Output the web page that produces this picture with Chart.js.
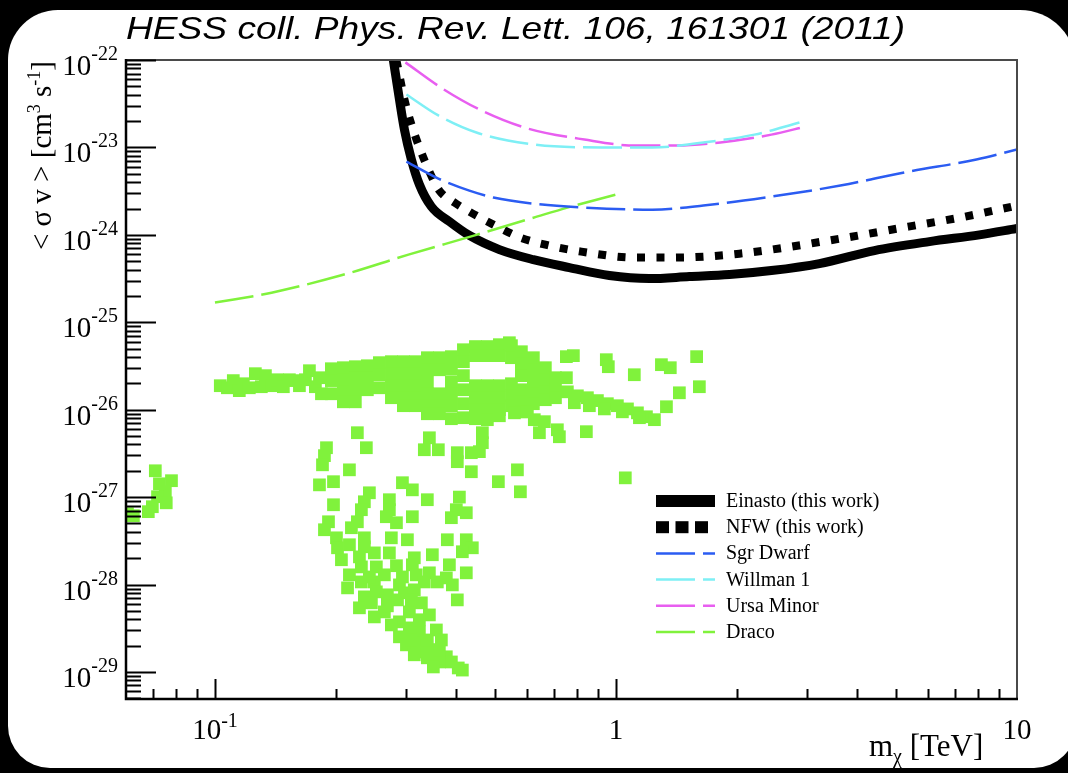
<!DOCTYPE html>
<html>
<head>
<meta charset="utf-8">
<script src="https://cdn.jsdelivr.net/npm/chart.js@4.4.1/dist/chart.umd.min.js"></script>
<style>
  html, body { margin: 0; padding: 0; background: #000; }
  #wrap { width: 1068px; height: 773px; }
</style>
</head>
<body>
<div id="wrap"><canvas id="limits" width="1068" height="773"></canvas></div>
<script>
// upper limits on <sigma v> vs WIMP mass (TeV), cm^3 s^-1
const einastoMass = [0.2785, 0.2884, 0.2968, 0.3089, 0.3234, 0.3465, 0.3842, 0.4309, 0.5119, 0.6223, 0.7652, 0.9627, 1.211, 1.524, 1.918, 2.441, 3.216, 4.410, 6.047, 8.058, 10];
const einastoSigv = [1.0e-22, 3.54e-23, 1.60e-23, 7.27e-24, 3.76e-24, 2.10e-24, 1.42e-24, 9.83e-25, 6.78e-25, 5.20e-25, 4.22e-25, 3.42e-25, 3.16e-25, 3.33e-25, 3.51e-25, 3.90e-25, 4.69e-25, 6.61e-25, 8.37e-25, 1.0e-24, 1.18e-24];

const nfwMass = [0.2834, 0.2968, 0.3089, 0.3234, 0.3425, 0.3627, 0.3954, 0.4309, 0.4946, 0.5775, 0.6822, 0.8197, 1.118, 1.359, 1.652, 2.031, 2.441, 3.628, 5.362, 7.184, 10];
const nfwSigv = [1.0e-22, 3.54e-23, 1.83e-23, 1.0e-23, 5.29e-24, 3.20e-24, 2.34e-24, 1.84e-24, 1.31e-24, 9.30e-25, 7.54e-25, 6.43e-25, 5.49e-25, 5.49e-25, 5.63e-25, 6.09e-25, 6.78e-25, 9.06e-25, 1.24e-24, 1.57e-24, 2.16e-24];

const sgrMass = [0.3002, 0.3606, 0.4309, 0.4946, 0.6223, 0.8341, 1.232, 1.652, 2.441, 3.628, 5.362, 7.921, 10];
const sgrSigv = [6.89e-24, 4.40e-24, 3.20e-24, 2.67e-24, 2.27e-24, 2.05e-24, 1.94e-24, 2.16e-24, 2.74e-24, 3.66e-24, 5.29e-24, 7.27e-24, 9.45e-24];

const willmanMass = [0.3002, 0.3606, 0.4487, 0.6223, 0.9197, 1.232, 1.652, 2.214, 2.868];
const willmanSigv = [4.03e-23, 2.32e-23, 1.48e-23, 1.08e-23, 1.0e-23, 1.0e-23, 1.14e-23, 1.40e-23, 1.93e-23];

const umiMass = [0.2985, 0.3690, 0.4672, 0.6012, 0.8341, 1.118, 1.415, 1.821, 2.441, 2.967];
const umiSigv = [9.39e-23, 4.72e-23, 2.58e-23, 1.65e-23, 1.23e-23, 1.05e-23, 1.05e-23, 1.14e-23, 1.40e-23, 1.73e-23];

const dracoMass = [0.1, 0.1384, 0.2055, 0.3037, 0.4487, 0.6223, 0.7564, 0.9966];
const dracoSigv = [1.68e-25, 2.18e-25, 3.42e-25, 5.93e-25, 1.0e-24, 1.57e-24, 2.05e-24, 2.88e-24];

// model scan points [mass, sigv]
const lowMassPts = [
  [0.0710, 2.0e-27], [0.0779, 1.54e-27], [0.0727, 1.42e-27], [0.0752, 1.15e-27], [0.0719, 1.01e-27],
  [0.0756, 8.6e-28], [0.0698, 7.76e-28], [0.0682, 6.81e-28], [0.0626, 6.12e-28], [0.0605, 6.45e-28]
];

const bandPts = [
  [0.1031, 1.88e-26], [0.1074, 1.78e-26], [0.1111, 2.15e-26], [0.1150, 1.65e-26], [0.1177, 1.98e-26],
  [0.1218, 1.78e-26], [0.1261, 2.58e-26], [0.1305, 1.83e-26], [0.1336, 2.45e-26], [0.1383, 1.88e-26],
  [0.1431, 2.20e-26], [0.1481, 1.83e-26], [0.1533, 2.20e-26], [0.1578, 2.15e-26], [0.1624, 1.88e-26],
  [0.1681, 2.20e-26], [0.1720, 2.79e-26], [0.1780, 1.83e-26], [0.1822, 2.32e-26], [0.1843, 1.52e-26],
  [0.1951, 2.94e-26], [0.1951, 2.15e-26], [0.1951, 1.52e-26],
  [0.2090, 3.02e-26], [0.2090, 2.20e-26], [0.2090, 1.60e-26], [0.2090, 1.23e-26],
  [0.2239, 3.10e-26], [0.2239, 2.32e-26], [0.2239, 1.69e-26], [0.2239, 1.23e-26],
  [0.2399, 3.18e-26], [0.2399, 2.32e-26], [0.2399, 1.69e-26],
  [0.2570, 3.45e-26], [0.2570, 2.51e-26], [0.2570, 1.78e-26],
  [0.2754, 3.54e-26], [0.2754, 2.58e-26], [0.2754, 1.88e-26], [0.2754, 1.37e-26],
  [0.2950, 3.54e-26], [0.2950, 2.58e-26], [0.2950, 1.88e-26], [0.2950, 1.37e-26], [0.2950, 1.11e-26],
  [0.3160, 3.54e-26], [0.3160, 2.58e-26], [0.3160, 1.88e-26], [0.3160, 1.37e-26], [0.3160, 1.11e-26],
  [0.3386, 3.93e-26], [0.3386, 2.86e-26], [0.3386, 2.09e-26], [0.3386, 1.52e-26], [0.3386, 1.11e-26], [0.3386, 8.98e-27],
  [0.3627, 3.93e-26], [0.3627, 2.86e-26], [0.3627, 1.52e-26], [0.3627, 1.11e-26], [0.3627, 8.98e-27],
  [0.3886, 4.04e-26], [0.3886, 2.94e-26], [0.3886, 2.09e-26], [0.3886, 1.52e-26], [0.3886, 1.11e-26], [0.3886, 7.88e-27],
  [0.4164, 4.85e-26], [0.4164, 3.54e-26], [0.4164, 2.45e-26], [0.4164, 1.69e-26], [0.4164, 1.17e-26], [0.4164, 8.09e-27],
  [0.4461, 5.27e-26], [0.4461, 4.15e-26], [0.4461, 1.88e-26], [0.4461, 1.37e-26], [0.4461, 1.0e-26], [0.4461, 7.88e-27],
  [0.4778, 5.27e-26], [0.4778, 4.15e-26], [0.4778, 1.88e-26], [0.4778, 1.37e-26], [0.4778, 1.0e-26], [0.4778, 7.68e-27],
  [0.5119, 5.54e-26], [0.5119, 4.15e-26], [0.5119, 1.88e-26], [0.5119, 1.37e-26], [0.5119, 1.0e-26], [0.5119, 8.52e-27],
  [0.5486, 5.40e-26], [0.5486, 3.93e-26], [0.5486, 1.98e-26], [0.5486, 1.44e-26], [0.5486, 1.11e-26],
  [0.5809, 4.6e-26], [0.5809, 3.36e-26], [0.5809, 2.45e-26], [0.5809, 1.69e-26], [0.5809, 1.23e-26], [0.5809, 9.45e-27],
  [0.6223, 3.93e-26], [0.6223, 2.86e-26], [0.6223, 2.09e-26], [0.6223, 1.52e-26], [0.6223, 1.17e-26],
  [0.6666, 3.02e-26], [0.6666, 2.20e-26], [0.6666, 1.60e-26], [0.6666, 1.30e-26],
  [0.7064, 2.32e-26], [0.7064, 1.69e-26], [0.7064, 1.37e-26]
];

const tailPts = [
  [0.7564, 1.60e-26], [0.8012, 1.44e-26], [0.8486, 1.37e-26], [0.8988, 1.27e-26], [0.9517, 1.17e-26],
  [1.008, 1.11e-26], [1.068, 1.02e-26], [1.131, 9.2e-27], [1.191, 8.3e-27], [1.247, 7.68e-27],
  [0.7875, 1.20e-26], [0.8583, 1.11e-26], [0.9354, 1.02e-26], [1.0375, 9.45e-27], [1.144, 8.09e-27]
];

const sparsePts = [
  [0.5422, 5.83e-26], [0.7522, 4.04e-26], [0.783, 4.15e-26], [0.946, 3.73e-26], [0.957, 3.10e-26],
  [0.7522, 2.32e-26], [1.111, 2.51e-26], [1.298, 3.27e-26], [1.366, 3.02e-26], [1.589, 4.04e-26],
  [1.614, 1.83e-26], [1.439, 1.56e-26], [1.336, 1.08e-26], [0.5582, 9.2e-27], [0.6012, 9.45e-27],
  [0.6256, 7.68e-27], [0.6629, 7.29e-27], [0.6442, 5.45e-27], [0.7142, 5.89e-27], [0.7225, 4.9e-27],
  [0.8436, 5.6e-27], [1.055, 1.66e-27]
];

const spreadPts = [
  [0.2265, 5.45e-27], [0.1897, 3.67e-27], [0.1875, 2.98e-27], [0.2385, 3.67e-27], [0.1854, 2.34e-27],
  [0.2164, 2.05e-27], [0.1822, 1.38e-27], [0.1975, 1.50e-27], [0.2427, 1.12e-27], [0.2358, 8.84e-28],
  [0.2318, 7.17e-28], [0.1975, 8.17e-28], [0.1919, 5.22e-28], [0.1875, 4.23e-28], [0.2009, 3.42e-28],
  [0.2021, 2.63e-28], [0.2189, 4.46e-28], [0.2265, 5.22e-28], [0.2358, 3.42e-28], [0.2358, 2.70e-28],
  [0.2722, 9.33e-28], [0.2722, 7.17e-28], [0.2675, 5.96e-28], [0.2835, 5.09e-28], [0.2753, 3.42e-28],
  [0.2934, 1.46e-27], [0.3106, 1.21e-27], [0.3106, 5.96e-28], [0.3019, 3.25e-28], [0.3385, 9.33e-28],
  [0.3425, 4.77e-27], [0.3327, 3.48e-27], [0.3606, 3.48e-27], [0.4021, 3.22e-27], [0.4021, 2.54e-27],
  [0.4358, 3.22e-27], [0.4564, 3.31e-27], [0.4358, 1.95e-27], [0.4069, 1.0e-27], [0.3998, 7.17e-28],
  [0.4234, 6.62e-28], [0.3886, 5.81e-28], [0.3797, 3.25e-28], [0.4234, 3.25e-28], [0.4383, 2.63e-28],
  [0.4643, 5.45e-27], [0.4643, 4.19e-27], [0.5678, 2.05e-27], [0.5776, 1.15e-27], [0.5090, 1.50e-27],
  [0.2292, 2.07e-28], [0.2497, 2.30e-28], [0.2722, 2.30e-28], [0.3484, 2.19e-28], [0.4139, 2.37e-28],
  [0.3141, 2.02e-28], [0.2318, 1.59e-28], [0.2526, 1.59e-28], [0.3106, 1.68e-28], [0.3177, 1.29e-28],
  [0.3425, 1.36e-28], [0.3842, 1.68e-28], [0.4234, 1.36e-28], [0.2141, 9.15e-29], [0.2318, 1.07e-28],
  [0.2497, 1.07e-28], [0.2526, 8.24e-29], [0.2358, 7.22e-29], [0.2691, 7.62e-29], [0.2884, 9.9e-29],
  [0.2968, 8.03e-29], [0.3141, 8.69e-29], [0.3327, 1.07e-28], [0.3585, 1.07e-28], [0.3775, 1.19e-28],
  [0.3908, 9.9e-29], [0.4021, 6.67e-29], [0.2292, 5.41e-29], [0.2455, 6.17e-29], [0.2497, 4.26e-29],
  [0.2645, 4.86e-29], [0.2884, 3.74e-29], [0.3053, 4.86e-29], [0.3271, 6.17e-29], [0.3425, 4.49e-29],
  [0.2884, 2.52e-29], [0.3053, 3.19e-29], [0.3234, 2.87e-29], [0.3565, 3.02e-29], [0.3669, 2.32e-29],
  [0.3002, 2.04e-29], [0.3195, 2.15e-29], [0.3290, 1.69e-29], [0.3484, 1.79e-29], [0.3775, 1.49e-29],
  [0.3886, 1.30e-29], [0.3385, 1.45e-29], [0.3627, 1.30e-29], [0.4139, 1.05e-29],
  [0.2164, 1.29e-28], [0.2427, 1.22e-28], [0.2645, 1.29e-28], [0.2835, 1.64e-28], [0.2934, 1.22e-28],
  [0.2691, 5.7e-29], [0.2852, 6.67e-29], [0.3089, 6.67e-29], [0.3234, 3.95e-29], [0.2753, 3.45e-29],
  [0.3089, 2.32e-29], [0.3385, 2.32e-29], [0.3141, 1.57e-29], [0.3627, 1.79e-29], [0.3504, 1.14e-29],
  [0.4043, 1.11e-29], [0.2067, 1.92e-28], [0.2164, 2.85e-28]
];

// axis labels
const yLabelVals = [1e-22, 1e-23, 1e-24, 1e-25, 1e-26, 1e-27, 1e-28, 1e-29];
const yLabelExps = ['-22', '-23', '-24', '-25', '-26', '-27', '-28', '-29'];
const xLabelVals = [0.1, 1, 10];
const xLabelBase = ['10', '1', '10'];
const xLabelExps = ['-1', '', ''];

const SERIF = '"Liberation Serif", "Times New Roman", serif';
const GREEN = '#80f23c';

const toXY = (xs, ys) => xs.map((x, i) => ({ x, y: ys[i] }));
const fromPairs = pts => pts.map(([x, y]) => ({ x, y }));

function curve(label, xs, ys, color, width, dash, legendStyle) {
  return {
    label,
    data: toXY(xs, ys),
    showLine: true,
    borderColor: color,
    backgroundColor: color,
    borderWidth: width,
    borderDash: dash,
    borderCapStyle: 'butt',
    borderJoinStyle: 'round',
    cubicInterpolationMode: 'monotone',
    pointRadius: 0,
    legendStyle,
    order: legendStyle === 'dash' ? 0 : 1
  };
}

function roundedRect(ctx, x, y, w, h, r) {
  ctx.beginPath();
  ctx.moveTo(x + r[0], y);
  ctx.lineTo(x + w - r[1], y);
  ctx.arcTo(x + w, y, x + w, y + r[1], r[1]);
  ctx.lineTo(x + w, y + h - r[2]);
  ctx.arcTo(x + w, y + h, x + w - r[2], y + h, r[2]);
  ctx.lineTo(x + r[3], y + h);
  ctx.arcTo(x, y + h, x, y + h - r[3], r[3]);
  ctx.lineTo(x, y + r[0]);
  ctx.arcTo(x, y, x + r[0], y, r[0]);
  ctx.closePath();
}

// draws text runs [text, fontSize, dy] one after another from x
function drawRuns(ctx, runs, x, y) {
  runs.forEach(([t, size, dy]) => {
    ctx.font = `${size}px ${SERIF}`;
    ctx.fillText(t, x, y + dy);
    x += ctx.measureText(t).width;
  });
}
function runsWidth(ctx, runs) {
  let w = 0;
  runs.forEach(([t, size]) => {
    ctx.font = `${size}px ${SERIF}`;
    w += ctx.measureText(t).width;
  });
  return w;
}

const rootFrame = {
  id: 'rootFrame',
  beforeDraw(chart) {
    const ctx = chart.ctx;
    ctx.save();
    ctx.fillStyle = '#000';
    ctx.fillRect(0, 0, chart.width, chart.height);
    ctx.fillStyle = '#fff';
    roundedRect(ctx, 8, 10, 1068, 758, [50, 56, 42, 42]);
    ctx.fill();
    ctx.restore();
  },
  afterDraw(chart) {
    const ctx = chart.ctx;
    const { left, right, top, bottom } = chart.chartArea;
    const xs = chart.scales.x, ys = chart.scales.y;
    ctx.save();

    // frame: grey top/right, black axes
    ctx.strokeStyle = '#4a4a4a';
    ctx.lineWidth = 2;
    ctx.beginPath();
    ctx.moveTo(left, top); ctx.lineTo(right, top); ctx.lineTo(right, bottom);
    ctx.stroke();

    ctx.strokeStyle = '#000';
    ctx.lineWidth = 2;
    ctx.beginPath();
    // y ticks, inside the frame
    for (let e = -22; e >= -30; e--) {
      for (let m = 1; m < 10; m++) {
        const v = m * Math.pow(10, e);
        if (v > 1.0001e-22 || v < ys.min) continue;
        const py = Math.round(ys.getPixelForValue(v)) + 0.5;
        ctx.moveTo(left, py);
        ctx.lineTo(left + (m === 1 ? 30 : 15), py);
      }
    }
    // x ticks
    for (let e = -2; e <= 1; e++) {
      for (let m = 1; m < 10; m++) {
        const v = m * Math.pow(10, e);
        if (v <= xs.min * 1.001 || v >= xs.max * 0.999) continue;
        const px = Math.round(xs.getPixelForValue(v)) + 0.5;
        ctx.moveTo(px, bottom);
        ctx.lineTo(px, bottom - (m === 1 ? 20 : 10));
      }
    }
    ctx.stroke();

    ctx.lineWidth = 2.5;
    ctx.beginPath();
    ctx.moveTo(left, top - 1); ctx.lineTo(left, bottom); ctx.lineTo(right + 1, bottom);
    ctx.stroke();

    // tick labels
    ctx.fillStyle = '#000';
    ctx.textBaseline = 'alphabetic';
    ctx.textAlign = 'left';
    yLabelVals.forEach((v, i) => {
      const py = ys.getPixelForValue(v);
      const runs = [['10', 29, 15], [yLabelExps[i], 20, 0]];
      drawRuns(ctx, runs, 118 - runsWidth(ctx, runs), py);
    });
    xLabelVals.forEach((v, i) => {
      const px = xs.getPixelForValue(v);
      const runs = [[xLabelBase[i], 29, 0]];
      if (xLabelExps[i]) runs.push([xLabelExps[i], 20, -12]);
      drawRuns(ctx, runs, px - runsWidth(ctx, runs) / 2, 739);
    });

    // axis titles
    drawRuns(ctx, [['m', 31, 0], ['\u03c7', 20, 7], [' [TeV]', 31, 0]], 869, 756);

    ctx.save();
    ctx.translate(51, 61);
    ctx.rotate(-Math.PI / 2);
    const yTitle = [['< \u03c3 v > [cm', 29, 0], ['3', 18, -11], [' s', 29, 0], ['-1', 18, -11], [']', 29, 0]];
    drawRuns(ctx, yTitle, -runsWidth(ctx, yTitle), 0);
    ctx.restore();

    // legend
    const rows = chart.data.datasets.filter(d => d.legendStyle);
    rows.forEach((d, i) => {
      const y = 501 + i * 26.2;
      const x0 = 656, x1 = 715;
      if (d.legendStyle === 'bar') {
        ctx.fillStyle = d.borderColor;
        ctx.fillRect(x0, y - 6, x1 - x0, 12);
      } else if (d.legendStyle === 'squares') {
        ctx.fillStyle = d.borderColor;
        [0, 19.5, 39].forEach(dx => ctx.fillRect(x0 + dx, y - 6, 13, 12));
      } else {
        ctx.strokeStyle = d.borderColor;
        ctx.lineWidth = 2.5;
        ctx.setLineDash(d.borderDash);
        ctx.beginPath();
        ctx.moveTo(x0, y); ctx.lineTo(x1, y);
        ctx.stroke();
        ctx.setLineDash([]);
      }
      ctx.fillStyle = '#000';
      ctx.font = `20px ${SERIF}`;
      ctx.fillText(d.label, 726, y + 6);
    });

    // title, stretched to span 126..905
    const title = 'HESS coll. Phys. Rev. Lett. 106, 161301 (2011)';
    ctx.font = 'italic 32px "Liberation Sans", Arial, sans-serif';
    ctx.fillStyle = '#000';
    const tw = ctx.measureText(title).width;
    ctx.translate(126, 39);
    ctx.scale(779 / tw, 1);
    ctx.fillText(title, 0, 0);

    ctx.restore();
  }
};

new Chart(document.getElementById('limits'), {
  type: 'scatter',
  data: {
    datasets: [
      curve('Einasto (this work)', einastoMass, einastoSigv, '#000', 9, [], 'bar'),
      curve('NFW (this work)', nfwMass, nfwSigv, '#000', 8, [8, 11.5], 'squares'),
      curve('Sgr Dwarf', sgrMass, sgrSigv, '#2b5cf2', 2.5, [39, 8], 'dash'),
      curve('Willman 1', willmanMass, willmanSigv, '#7eeff5', 2.5, [39, 8], 'dash'),
      curve('Ursa Minor', umiMass, umiSigv, '#e85ef0', 2.5, [39, 8], 'dash'),
      curve('Draco', dracoMass, dracoSigv, GREEN, 2.5, [39, 8], 'dash'),
      {
        label: 'scan',
        data: fromPairs([].concat(lowMassPts, bandPts, tailPts, sparsePts, spreadPts)),
        showLine: false,
        pointStyle: 'rect',
        pointRadius: 9,
        pointBorderWidth: 0,
        backgroundColor: GREEN,
        borderColor: GREEN,
        order: 2
      }
    ]
  },
  options: {
    responsive: false,
    animation: false,
    events: [],
    layout: { padding: { left: 126, top: 60, right: 51, bottom: 74 } },
    plugins: { legend: { display: false }, tooltip: { enabled: false } },
    scales: {
      x: { type: 'logarithmic', min: 0.06, max: 10, display: false },
      y: { type: 'logarithmic', min: 4.9e-30, max: 1e-22, display: false }
    }
  },
  plugins: [rootFrame]
});
</script>
</body>
</html>
